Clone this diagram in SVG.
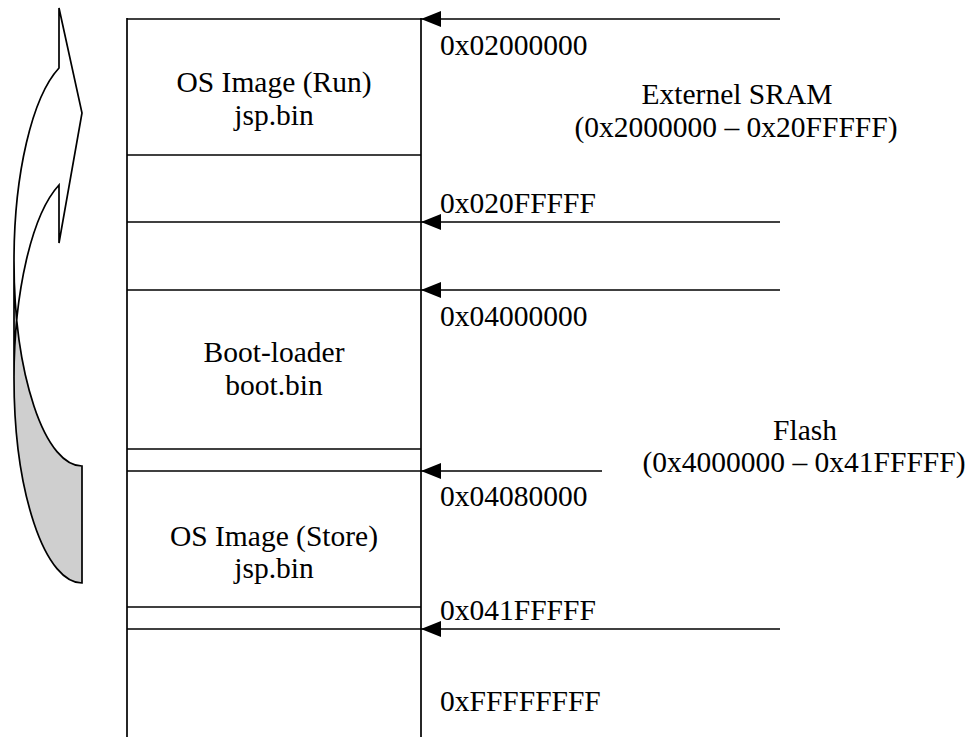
<svg xmlns="http://www.w3.org/2000/svg" width="972" height="737" viewBox="0 0 972 737">
<style>
  .ln{stroke:#000;stroke-width:1.7;fill:none}
  .ar{stroke:#000;stroke-width:1.4;fill:none}
  .t{font-family:"Liberation Serif","Times New Roman",serif;font-size:29.5px;fill:#000}
  .c{text-anchor:middle}
</style>
<defs>
  <marker id="ah" markerUnits="userSpaceOnUse" markerWidth="20" markerHeight="16" refX="20" refY="8" orient="auto" viewBox="0 0 20 16">
    <path d="M0,0 L20,8 L0,16 Z" fill="#000"/>
  </marker>
</defs>
<rect width="972" height="737" fill="#fff"/>

<g id="curved-arrow">
  <path d="M14,378 A68,205 0 0 1 59,185 L59,243 L82,113 L59,8 L59,68 A68,205 0 0 0 14,261 Z" fill="#fff"/>
  <path d="M82,466 A68,205 0 0 1 14,261 L14,378 A68,205 0 0 0 82,583 Z" fill="#cfcfcf"/>
  <path class="ln" stroke-width="1.5" d="M14,378 A68,205 0 0 1 59,185 L59,243 L82,113 L59,8 L59,68 A68,205 0 0 0 14,261 L14,378 A68,205 0 0 0 82,583 L82,466 A68,205 0 0 1 14,261"/>
</g>

<g id="memory-column">
  <line class="ln" x1="127" y1="18" x2="127" y2="737"/>
  <line class="ln" x1="421" y1="18" x2="421" y2="737"/>
</g>
<g id="os-image-run">
  <line class="ln" x1="127" y1="19" x2="421" y2="19"/>
  <line class="ln" x1="127" y1="155" x2="421" y2="155"/>
  <text class="t c" x="274" y="92">OS Image (Run)</text>
  <text class="t c" x="274" y="125">jsp.bin</text>
</g>
<g id="sram-gap">
  <line class="ln" x1="127" y1="222" x2="421" y2="222"/>
</g>
<g id="reserved">
  <line class="ln" x1="127" y1="290" x2="421" y2="290"/>
</g>
<g id="boot-loader">
  <line class="ln" x1="127" y1="449" x2="421" y2="449"/>
  <text class="t c" x="274" y="362">Boot-loader</text>
  <text class="t c" x="274" y="395">boot.bin</text>
</g>
<g id="os-image-store">
  <line class="ln" x1="127" y1="471" x2="421" y2="471"/>
  <line class="ln" x1="127" y1="607" x2="421" y2="607"/>
  <text class="t c" x="274" y="546">OS Image (Store)</text>
  <text class="t c" x="274" y="578">jsp.bin</text>
</g>
<g id="upper-memory">
  <line class="ln" x1="127" y1="629" x2="421" y2="629"/>
</g>

<g id="connectors">
  <line class="ar" x1="780" y1="19" x2="421" y2="19" marker-end="url(#ah)"/>
  <line class="ar" x1="780" y1="222" x2="421" y2="222" marker-end="url(#ah)"/>
  <line class="ar" x1="780" y1="290" x2="421" y2="290" marker-end="url(#ah)"/>
  <line class="ar" x1="602" y1="471" x2="421" y2="471" marker-end="url(#ah)"/>
  <line class="ar" x1="780" y1="629" x2="421" y2="629" marker-end="url(#ah)"/>
</g>

<g id="address-labels">
  <text class="t" x="440" y="55">0x02000000</text>
  <text class="t" x="440" y="213">0x020FFFFF</text>
  <text class="t" x="440" y="326">0x04000000</text>
  <text class="t" x="440" y="506">0x04080000</text>
  <text class="t" x="440" y="620">0x041FFFFF</text>
  <text class="t" x="440" y="711">0xFFFFFFFF</text>
</g>
<g id="sram-label">
  <text class="t c" x="737" y="104">Externel SRAM</text>
  <text class="t c" x="736" y="137">(0x2000000 – 0x20FFFFF)</text>
</g>
<g id="flash-label">
  <text class="t c" x="805" y="440">Flash</text>
  <text class="t c" x="804" y="472">(0x4000000 – 0x41FFFFF)</text>
</g>
</svg>
